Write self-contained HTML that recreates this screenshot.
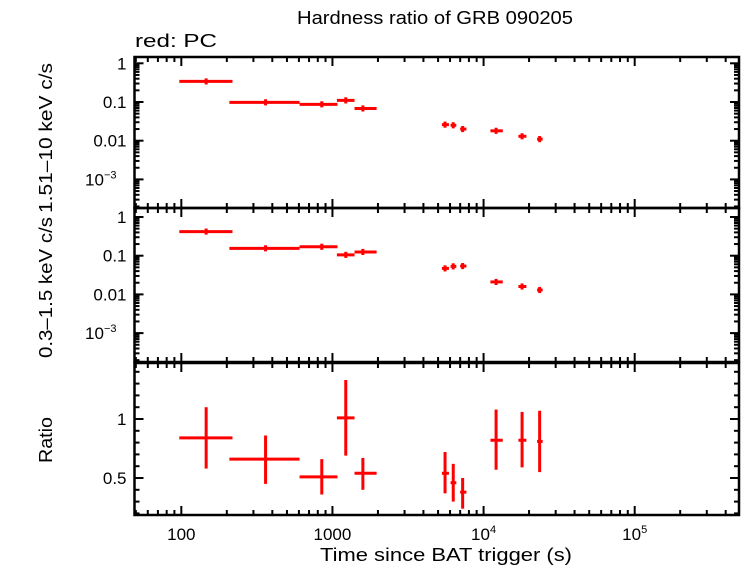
<!DOCTYPE html>
<html><head><meta charset="utf-8"><style>
html,body{margin:0;padding:0;background:#fff;}
svg{display:block;font-family:"Liberation Sans",sans-serif;}
</style></head><body>
<svg id="c" width="742" height="566" xmlns="http://www.w3.org/2000/svg">
<text x="297" y="24" font-size="18" textLength="276" lengthAdjust="spacingAndGlyphs">Hardness ratio of GRB 090205</text>
<text x="135" y="47" font-size="18" textLength="82" lengthAdjust="spacingAndGlyphs">red: PC</text>
<text transform="translate(52,213) rotate(-90)" font-size="18" textLength="150" lengthAdjust="spacingAndGlyphs">1.51–10 keV c/s</text>
<text transform="translate(52,358) rotate(-90)" font-size="18" textLength="141" lengthAdjust="spacingAndGlyphs">0.3–1.5 keV c/s</text>
<text transform="translate(52,463) rotate(-90)" font-size="18" textLength="46" lengthAdjust="spacingAndGlyphs">Ratio</text>
<text x="320" y="561" font-size="18" textLength="252" lengthAdjust="spacingAndGlyphs">Time since BAT trigger (s)</text>
<g id="marks"></g>
</svg>
<script>
const times=[146,361,850,1225,1590,5560,6300,7270,12100,17980,23500];
const tLo=[97,208,606,1070,1400,5300,6050,7000,11100,17000,22600];
const tHi=[218,606,1080,1400,1960,5900,6600,7700,13400,19200,24600];
const hard=[0.34,0.098,0.087,0.11,0.068,0.026,0.025,0.020,0.018,0.013,0.011];
const soft=[0.42,0.155,0.17,0.105,0.125,0.047,0.053,0.054,0.021,0.016,0.013];
const ratio=[0.84,0.66,0.51,1.01,0.54,0.54,0.46,0.38,0.82,0.82,0.81];
const ratioLo=[0.58,0.45,0.36,0.69,0.40,0.37,0.30,0.24,0.57,0.59,0.55];
const ratioHi=[1.10,0.86,0.66,1.33,0.67,0.72,0.62,0.50,1.08,1.06,1.07];
const xTicks=["100","1000","10^4","10^5"];
const logTicks=["1","0.1","0.01","10^-3"];
const ratioTicks=[1,0.5];

const NS="http://www.w3.org/2000/svg";
const g=document.getElementById('marks');
const L=134.5,R=739;
const X0=Math.log10(49),X1=Math.log10(4.9e5);
const xs=t=>L+(Math.log10(t)-X0)/(X1-X0)*(R-L);
const panels=[{top:57,bot:208,y1:63.3},{top:208,bot:362,y1:217}];
const ly=(p,v)=>p.y1-Math.log10(v)*38.7;
const rTop=363,rBot=515;
const ry=v=>419-(v-1)*118;
function el(tag,a,parent){const e=document.createElementNS(NS,tag);for(const k in a)e.setAttribute(k,a[k]);(parent||g).appendChild(e);return e;}
function line(x1,y1,x2,y2,c,w,name){const e=el('line',{x1,y1,x2,y2,stroke:c,'stroke-width':w});

return e;}
function xticks(top,bot){
  for(let d=1;d<=5;d++){for(let m=1;m<10;m++){const t=m*Math.pow(10,d);const x=xs(t);if(x<L||x>R)continue;
    const len=m==1?9:5;
    line(x,top,x,top+len,'#000',2,'x-tick');line(x,bot,x,bot-len,'#000',2,'x-tick');}}
}
function yticksLog(p){
  for(let d=-4;d<=0;d++){for(let m=1;m<10;m++){const v=m*Math.pow(10,d);const y=ly(p,v);if(y<p.top||y>p.bot)continue;
    const len=m==1?9:5;line(L,y,L+len,y,'#000',2,'y-tick');line(R,y,R-len,y,'#000',2,'y-tick');}}
  logTicks.forEach((s,i)=>{const y=ly(p,Math.pow(10,-i));
    const t=el('text',{x:L-8,y:y+6,'font-size':17,'text-anchor':'end'});
    
    
    if(s.startsWith('10^')){t.textContent='10';const s2=el('tspan',{dy:-7,'font-size':11},t);s2.textContent=s.slice(3).replace('-','−');t.setAttribute('x',L-18);}
    else t.textContent=s;});
}
panels.forEach((p,pi)=>{
  const r=el('rect',{x:L,y:p.top,width:R-L,height:p.bot-p.top,fill:'none',stroke:'#000','stroke-width':2.5});
  
  
  xticks(p.top,p.bot);yticksLog(p);
  const vals=pi==0?hard:soft;
  vals.forEach((v,i)=>{const y=ly(p,v),x=xs(times[i]);
    line(xs(tLo[i]),y,xs(tHi[i]),y,'#f00',3,'x-error-bar');
    line(x,ly(p,v*1.2),x,ly(p,v/1.2),'#f00',3,'y-error-bar');});
});
const rr=el('rect',{x:L,y:rTop,width:R-L,height:rBot-rTop,fill:'none',stroke:'#000','stroke-width':2.5});


xticks(rTop,rBot);
for(let v=0.2;v<=1.45;v+=0.1){const y=ry(v);const maj=Math.abs(v*2-Math.round(v*2))<1e-6;const len=maj?9:5;
  line(L,y,L+len,y,'#000',2,'y-tick');line(R,y,R-len,y,'#000',2,'y-tick');}
ratioTicks.forEach(v=>{const t=el('text',{x:L-8,y:ry(v)+6,'font-size':17,'text-anchor':'end'});t.textContent=String(v);
  
  });
ratio.forEach((v,i)=>{const x=xs(times[i]);
  line(xs(tLo[i]),ry(v),xs(tHi[i]),ry(v),'#f00',3,'ratio-x-error');
  line(x,ry(ratioLo[i]),x,ry(ratioHi[i]),'#f00',3,'ratio-y-error');});
xTicks.forEach((s,i)=>{const x=xs(Math.pow(10,i+2));const t=el('text',{x:x,y:540,'font-size':17,'text-anchor':'middle'});
  
  
  if(s.startsWith('10^')){t.textContent='10';const s2=el('tspan',{dy:-7,'font-size':11},t);s2.textContent=s.slice(3);}
  else t.textContent=s;});
</script>
</body></html>
